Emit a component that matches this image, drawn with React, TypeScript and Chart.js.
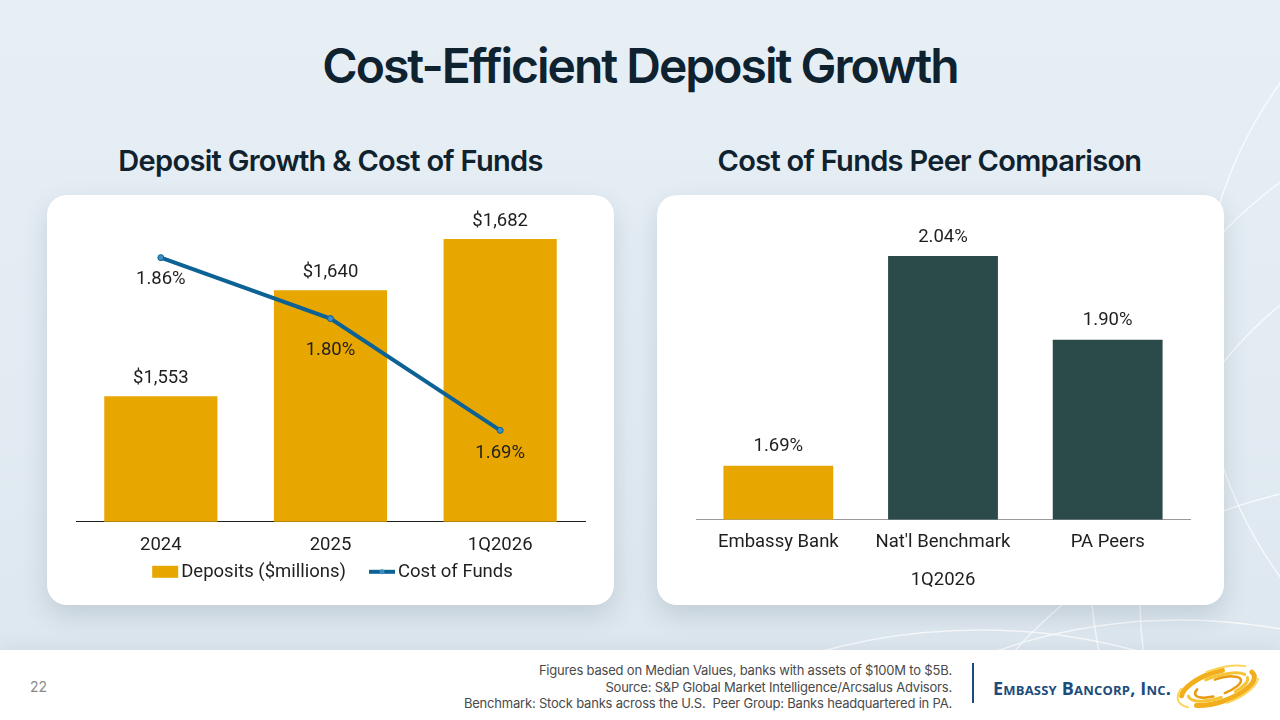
import React, { useEffect, useRef } from "react";
import { Chart, registerables } from "chart.js";

Chart.register(...registerables);

// Deposit growth (left chart)
const years = ["2024", "2025", "1Q2026"];
const deposits = [1553, 1640, 1682];
const costOfFunds = [1.86, 1.8, 1.69];

// Peer comparison (right chart)
const peerNames = ["Embassy Bank", "Nat'l Benchmark", "PA Peers"];
const peerCost = [1.69, 2.04, 1.9];
const peerPeriod = "1Q2026";

const footnotes = [
  "Figures based on Median Values, banks with assets of $100M to $5B.",
  "Source: S&P Global Market Intelligence/Arcsalus Advisors.",
  "Benchmark: Stock banks across the U.S.  Peer Group: Banks headquartered in PA.",
];

const GOLD = "#E8A700";
const TEAL = "#2B4A4A";
const BLUE = "#0C6195";
const TEXT = "#1F1F1F";
const CHART_FONT = "Roboto, 'Liberation Sans', Arial, sans-serif";
const HEAD_FONT = "Inter, 'Noto Sans', sans-serif";
const FS = 18.5;

// Draws each dataset's value next to its bar / point.
const valueLabels = {
  id: "valueLabels",
  afterDatasetsDraw(chart: any, _args: any, opts: any) {
    const ctx = chart.ctx;
    ctx.save();
    ctx.fillStyle = opts.color || TEXT;
    ctx.font = `${opts.size || FS}px ${CHART_FONT}`;
    ctx.textAlign = "center";
    ctx.textBaseline = "middle";
    chart.data.datasets.forEach((ds: any, i: number) => {
      const meta = chart.getDatasetMeta(i);
      const fmt = opts.formats[i];
      const offsets = opts.offsets[i];
      meta.data.forEach((el: any, j: number) => {
        const off = Array.isArray(offsets) ? offsets[j] : offsets;
        ctx.fillText(fmt(ds.data[j]), el.x, el.y + off);
      });
    });
    ctx.restore();
  },
};

// Compact combo legend under the category axis: a swatch for bar datasets,
// a short stroke with a dot for line datasets.
const comboLegend = {
  id: "comboLegend",
  afterDraw(chart: any, _args: any, opts: any) {
    const ctx = chart.ctx;
    const area = chart.chartArea;
    const sw = 26;
    const textGap = 3;
    const itemGap = 23;
    ctx.save();
    ctx.font = `${FS}px ${CHART_FONT}`;
    ctx.textBaseline = "middle";
    ctx.textAlign = "left";
    const items = chart.data.datasets.map((ds: any) => ({
      text: ds.label,
      isLine: ds.type === "line",
      color: ds.type === "line" ? ds.borderColor : ds.backgroundColor,
      dot: ds.pointBackgroundColor,
      w: sw + textGap + ctx.measureText(ds.label).width,
    }));
    const total =
      items.reduce((s: number, it: any) => s + it.w, 0) + itemGap * (items.length - 1);
    let x = (area.left + area.right) / 2 - total / 2 + (opts.shift || 0);
    const y = area.bottom + opts.offset;
    items.forEach((it: any) => {
      if (it.isLine) {
        ctx.strokeStyle = it.color;
        ctx.lineWidth = 4;
        ctx.beginPath();
        ctx.moveTo(x, y);
        ctx.lineTo(x + sw, y);
        ctx.stroke();
        ctx.fillStyle = it.dot;
        ctx.beginPath();
        ctx.arc(x + sw / 2, y, 2.5, 0, Math.PI * 2);
        ctx.fill();
      } else {
        ctx.fillStyle = it.color;
        ctx.fillRect(x, y - 6, sw, 12);
      }
      ctx.fillStyle = TEXT;
      ctx.fillText(it.text, x + sw + textGap, y + 1);
      x += it.w + itemGap;
    });
    ctx.restore();
  },
};

const money = (v: number) => "$" + v.toLocaleString("en-US");
const pct = (v: number) => v.toFixed(2) + "%";

function DepositChart() {
  const ref = useRef<HTMLCanvasElement>(null);
  useEffect(() => {
    const chart = new Chart(ref.current as HTMLCanvasElement, {
      type: "bar",
      data: {
        labels: years,
        datasets: [
          {
            type: "bar",
            label: "Deposits ($millions)",
            data: deposits,
            backgroundColor: GOLD,
            yAxisID: "y",
            order: 2,
            categoryPercentage: 1,
            barPercentage: 0.667,
          } as any,
          {
            type: "line",
            label: "Cost of Funds",
            data: costOfFunds,
            borderColor: BLUE,
            borderWidth: 4,
            pointRadius: 3,
            pointBackgroundColor: "#3E8CC2",
            pointBorderColor: BLUE,
            pointBorderWidth: 1,
            tension: 0,
            yAxisID: "y1",
            order: 1,
          } as any,
        ],
      },
      options: {
        animation: false,
        responsive: false,
        maintainAspectRatio: false,
        layout: { padding: { left: 29, right: 29, top: 22, bottom: 37 } },
        scales: {
          x: {
            grid: { display: false, drawTicks: false },
            border: { display: true, color: "#222", width: 1 },
            ticks: { color: TEXT, font: { family: CHART_FONT, size: FS }, padding: 12 },
          },
          y: { display: false, min: 1450, max: 1700 },
          y1: { display: false, min: 1.6, max: 1.9, position: "right" },
        },
        plugins: {
          legend: { display: false },
          tooltip: { enabled: false },
          valueLabels: {
            formats: [money, pct],
            offsets: [-18, [22, 32, 23]],
          },
          comboLegend: { offset: 50, shift: 2 },
        } as any,
      },
      plugins: [valueLabels, comboLegend],
    });
    return () => chart.destroy();
  }, []);
  return <canvas ref={ref} width={567} height={410} />;
}

function PeerChart() {
  const ref = useRef<HTMLCanvasElement>(null);
  useEffect(() => {
    const chart = new Chart(ref.current as HTMLCanvasElement, {
      type: "bar",
      data: {
        labels: peerNames,
        datasets: [
          {
            label: "Cost of Funds",
            data: peerCost,
            backgroundColor: [GOLD, TEAL, TEAL],
            categoryPercentage: 1,
            barPercentage: 0.667,
          },
        ],
      },
      options: {
        animation: false,
        responsive: false,
        maintainAspectRatio: false,
        layout: { padding: { left: 39, right: 34, top: 25, bottom: 10 } },
        scales: {
          x: {
            grid: { display: false, drawTicks: false },
            border: { display: true, color: "#9A9A9A", width: 1 },
            ticks: { color: TEXT, font: { family: CHART_FONT, size: FS }, padding: 12 },
            title: {
              display: true,
              text: peerPeriod,
              color: TEXT,
              font: { family: CHART_FONT, size: FS },
              padding: { top: 3, bottom: 4 },
            },
          },
          y: { display: false, min: 1.6, max: 2.1 },
        },
        plugins: {
          legend: { display: false },
          tooltip: { enabled: false },
          valueLabels: { formats: [pct], offsets: [-19] },
        } as any,
      },
      plugins: [valueLabels],
    });
    return () => chart.destroy();
  }, []);
  return <canvas ref={ref} width={567} height={410} />;
}

const card: React.CSSProperties = {
  position: "absolute",
  top: 195,
  width: 567,
  height: 410,
  background: "#FFFFFF",
  borderRadius: 20,
  boxShadow: "0 10px 26px rgba(40,60,80,0.16)",
  overflow: "hidden",
};

const subtitle: React.CSSProperties = {
  position: "absolute",
  top: 142,
  width: 567,
  textAlign: "center",
  fontFamily: HEAD_FONT,
  fontWeight: 600,
  fontSize: 29,
  letterSpacing: "-0.7px",
  color: "#10222E",
  lineHeight: "38px",
};

function Backdrop() {
  return (
    <svg
      width={1280}
      height={720}
      style={{ position: "absolute", left: 0, top: 0 }}
    >
      <g fill="none" stroke="rgba(255,255,255,0.75)" strokeWidth={1.4}>
        <circle cx={1560} cy={560} r={470} />
        <circle cx={1520} cy={600} r={380} />
        <circle cx={1620} cy={330} r={420} />
        <circle cx={1180} cy={1180} r={560} />
        <circle cx={980} cy={1230} r={600} />
        <circle cx={1400} cy={1000} r={520} />
      </g>
    </svg>
  );
}

function Swirl() {
  return (
    <svg width={90} height={46} style={{ position: "absolute", left: 1173, top: 664 }}>
      <g fill="none" strokeLinecap="round" transform="rotate(-18 45 23)">
        <ellipse cx={45} cy={23} rx={38} ry={15} stroke="#F2AE1C" strokeWidth={5} strokeDasharray="70 20 50 30" />
        <ellipse cx={45} cy={23} rx={31} ry={11} stroke="#F7C437" strokeWidth={3} strokeDasharray="40 15 35 25" strokeDashoffset={20} />
        <ellipse cx={45} cy={23} rx={24} ry={8} stroke="#E89A10" strokeWidth={2.5} strokeDasharray="30 12 25 20" strokeDashoffset={8} />
        <ellipse cx={45} cy={23} rx={42} ry={18} stroke="#FBD55A" strokeWidth={2} strokeDasharray="25 30 40 40" strokeDashoffset={50} />
      </g>
    </svg>
  );
}

export default function App() {
  return (
    <div
      style={{
        position: "fixed",
        left: 0,
        top: 0,
        width: 1280,
        height: 720,
        overflow: "hidden",
        background: "linear-gradient(180deg, #E7EFF5 0%, #E2EBF2 60%, #DCE6EE 100%)",
        fontFamily: HEAD_FONT,
      }}
    >
      <Backdrop />
      <div
        style={{
          position: "absolute",
          top: 38,
          left: 0,
          width: 1280,
          textAlign: "center",
          fontFamily: HEAD_FONT,
          fontWeight: 600,
          fontSize: 48,
          letterSpacing: "-2px",
          color: "#0F2230",
          lineHeight: "56px",
        }}
      >
        Cost-Efficient Deposit Growth
      </div>

      <div style={{ ...subtitle, left: 47 }}>Deposit Growth &amp; Cost of Funds</div>
      <div style={{ ...subtitle, left: 646 }}>Cost of Funds Peer Comparison</div>

      <div style={{ ...card, left: 47 }}>
        <DepositChart />
      </div>
      <div style={{ ...card, left: 657 }}>
        <PeerChart />
      </div>

      <div
        style={{
          position: "absolute",
          left: 0,
          top: 650,
          width: 1280,
          height: 70,
          background: "#FFFFFF",
          boxShadow: "0 -6px 14px rgba(60,80,100,0.06)",
        }}
      >
        <div
          style={{
            position: "absolute",
            left: 30,
            top: 28,
            fontSize: 14,
            color: "#8A8A8A",
            fontFamily: HEAD_FONT,
            lineHeight: "18px",
          }}
        >
          22
        </div>
        <div
          style={{
            position: "absolute",
            right: 1280 - 952,
            top: 12,
            textAlign: "right",
            fontSize: 13,
            letterSpacing: "-0.2px",
            color: "#4A4A4A",
            fontFamily: HEAD_FONT,
            lineHeight: "16.5px",
            whiteSpace: "pre",
          }}
        >
          {footnotes.map((t) => (
            <div key={t}>{t}</div>
          ))}
        </div>
        <div
          style={{
            position: "absolute",
            left: 972,
            top: 13,
            width: 2,
            height: 40,
            background: "#1C4C7C",
          }}
        />
        <div
          style={{
            position: "absolute",
            left: 993,
            top: 27,
            fontFamily: "'Open Sans', 'Noto Sans', sans-serif",
            fontWeight: 700,
            fontSize: 18,
            fontVariant: "small-caps",
            letterSpacing: "0.2px",
            color: "#1C4C7C",
            lineHeight: "22px",
            whiteSpace: "nowrap",
          }}
        >
          Embassy Bancorp, Inc.
        </div>
      </div>
      <Swirl />
    </div>
  );
}
